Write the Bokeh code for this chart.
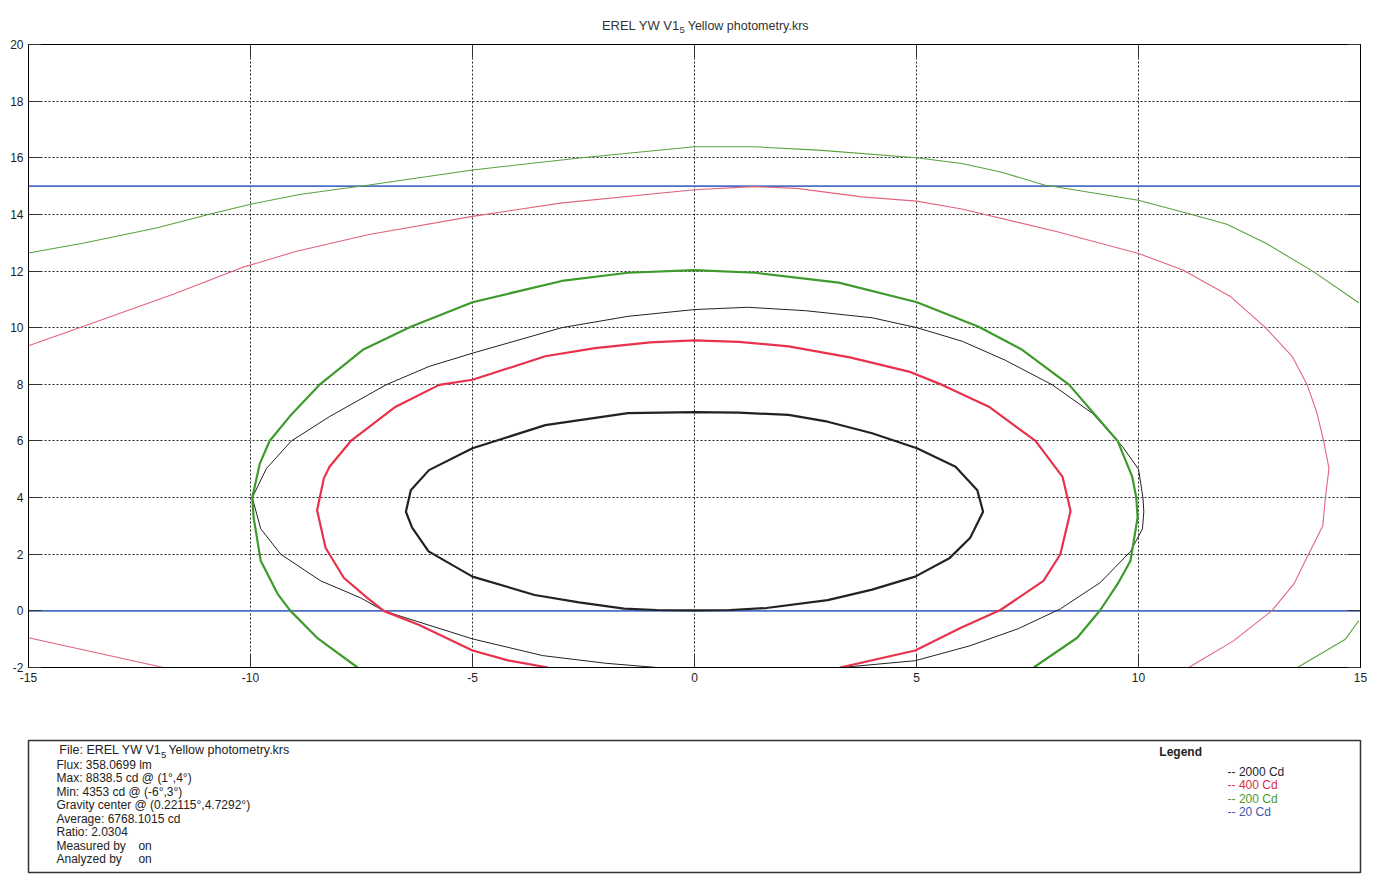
from bokeh.plotting import figure
from bokeh.models import Range1d, LinearAxis, FixedTicker, Grid, ColumnDataSource, CustomLabelingPolicy
from bokeh.layouts import column
from bokeh.embed import file_html
from bokeh.resources import INLINE
from bokeh.core.properties import value

# ---------------- data ----------------
x_ticks = [-15, -10, -5, 0, 5, 10, 15]
x_tick_labels = ["-15", "-10", "-5", "0", "5", "10", "15"]
y_ticks = [-2, 0, 2, 4, 6, 8, 10, 12, 14, 16, 18, 20]
y_tick_labels = ["-2", "0", "2", "4", "6", "8", "10", "12", "14", "16", "18", "20"]

# 2000 Cd family (black)
black_thick_x = [0, 1.0, 2.12, 3.0, 4.0, 5.01, 5.88, 6.37, 6.5, 6.21, 5.75, 4.97, 4.0, 3.0, 1.62, 0.8, 0,
                 -0.85, -1.59, -2.6, -3.6, -5.0, -5.99, -6.36, -6.5, -6.39, -5.98, -5.0, -3.36, -1.5, 0]
black_thick_y = [7.02, 7.0, 6.92, 6.68, 6.27, 5.74, 5.09, 4.26, 3.5, 2.58, 1.87, 1.21, 0.75, 0.38, 0.1, 0.03, 0.02,
                 0.03, 0.08, 0.3, 0.56, 1.21, 2.1, 2.94, 3.5, 4.26, 4.97, 5.74, 6.56, 6.98, 7.02]
black_thin_x = [3.3, 4.97, 6.21, 7.29, 8.24, 9.14, 9.82, 10.09, 10.12, 10.1, 10.0, 9.64, 8.96, 8.06, 7.0, 6.03,
                5.01, 4.0, 2.5, 1.2, 0, -1.5, -2.99, -5.0, -5.98, -6.95, -8.22, -9.08, -9.64, -9.96, -9.77,
                -9.32, -8.42, -7.52, -7.0, -5.0, -3.42, -2.0, -0.85]
black_thin_y = [-2.0, -1.76, -1.23, -0.63, 0.07, 1.0, 2.1, 2.9, 3.5, 4.0, 5.0, 5.8, 6.98, 7.98, 8.85, 9.52,
                10.0, 10.35, 10.6, 10.72, 10.64, 10.4, 10.0, 9.1, 8.63, 7.98, 6.86, 6.0, 5.03, 4.0, 2.9,
                2.0, 1.06, 0.46, 0.0, -0.99, -1.58, -1.85, -2.0]

# 400 Cd family (red)
red_thick_x = [3.28, 4.97, 6.0, 6.89, 7.86, 8.24, 8.47, 8.29, 7.68, 6.63, 5.58, 4.83, 3.5, 2.12, 1.0, 0,
               -1.0, -2.24, -3.36, -5.0, -5.75, -6.73, -7.74, -8.22, -8.35, -8.5, -8.31, -7.9, -7.37, -7.0,
               -6.2, -5.0, -4.2, -3.3]
red_thick_y = [-2.0, -1.4, -0.6, 0.03, 1.06, 2.0, 3.53, 4.73, 6.0, 7.21, 7.98, 8.45, 8.95, 9.34, 9.5, 9.55,
               9.48, 9.28, 8.99, 8.16, 7.98, 7.21, 6.0, 5.09, 4.67, 3.55, 2.23, 1.17, 0.46, 0.0,
               -0.5, -1.4, -1.75, -2.0]
red_thin_x = [-15, -13.9, -11.74, -10.2, -8.96, -7.33, -5.0, -3.02, 0, 1.32, 2.3, 3.77, 5.0, 6.02, 8.17, 10.0,
              11.0, 12.08, 12.86, 13.46, 13.8, 14.02, 14.17, 14.29, 14.21, 14.15, 13.83, 13.5, 13.0, 12.14, 11.13]
red_thin_y = [9.36, 9.97, 11.18, 12.12, 12.7, 13.29, 13.93, 14.4, 14.87, 14.98, 14.92, 14.62, 14.47, 14.19, 13.39,
              12.62, 12.04, 11.09, 10.0, 8.99, 7.98, 6.98, 6.0, 5.03, 4.0, 3.0, 2.0, 0.95, 0.0, -1.06, -2.0]
red_corner_x = [-15, -11.96]
red_corner_y = [-0.95, -2.0]

# 200 Cd family (green)
green_thick_x = [7.64, 8.62, 9.14, 9.53, 9.82, 9.98, 9.95, 9.86, 9.53, 8.44, 7.38, 6.4, 5.01, 3.25, 1.37, 0,
                 -1.5, -2.99, -5.0, -6.39, -7.47, -8.45, -9.12, -9.57, -9.79, -9.96, -9.93, -9.77, -9.39, -9.1,
                 -8.5, -7.59]
green_thick_y = [-2.0, -0.95, 0.03, 0.95, 1.77, 3.3, 4.0, 4.73, 6.0, 7.98, 9.22, 10.03, 10.9, 11.59, 11.94, 12.03,
                 11.94, 11.65, 10.9, 10.03, 9.22, 7.98, 6.86, 6.0, 5.2, 4.0, 3.3, 1.77, 0.6, 0.0,
                 -0.95, -2.0]
green_thin_x = [-15, -13.75, -12.12, -10.97, -10, -8.86, -7.33, -5, -2.54, 0, 1.32, 2.79, 5, 6.02, 6.9, 7.88,
                10, 11.2, 11.99, 12.87, 13.94, 14.96]
green_thin_y = [12.64, 12.99, 13.52, 13.99, 14.36, 14.71, 15.04, 15.57, 16.0, 16.39, 16.39, 16.27, 16.0, 15.8, 15.5,
                15.04, 14.5, 14.0, 13.65, 12.98, 11.98, 10.88]
green_corner_x = [13.58, 14.66, 14.96]
green_corner_y = [-2.0, -1.0, -0.35]

# 20 Cd (blue)
blue_low_x = [-15, 15]
blue_low_y = [0.0, 0.0]
blue_high_x = [-15, 15]
blue_high_y = [15.0, 15.0]

title_main = "EREL YW V1"
title_sub = "5"
title_rest = "Yellow photometry.krs"

info_first = "File: EREL YW V1"
info_first_sub = "5"
info_first_rest = "Yellow photometry.krs"
info_lines = [
    "Flux: 358.0699 lm",
    "Max: 8838.5 cd @ (1°,4°)",
    "Min: 4353 cd @ (-6°,3°)",
    "Gravity center @ (0.22115°,4.7292°)",
    "Average: 6768.1015 cd",
    "Ratio: 2.0304",
]
info_sign_labels = ["Measured by", "Analyzed by"]
info_sign_values = ["on", "on"]
legend_title = "Legend"
legend_labels = ["-- 2000 Cd", "-- 400 Cd", "-- 200 Cd", "-- 20 Cd"]
legend_colors = ["#1e2233", "#d8304a", "#4a9a30", "#3a55a8"]

FONT = "Liberation Sans"
W = 1370
TXT = "#222222"

# ---------------- title strip ----------------
tf = figure(width=W, height=36, x_range=Range1d(0, W), y_range=Range1d(36, 0),
            output_backend="svg", toolbar_location=None, x_axis_type=None, y_axis_type=None,
            min_border=0, outline_line_color=None)
tf.grid.visible = False
tf.text(x=[670], y=[25], text=[title_main], text_font=value(FONT), text_font_size="13px",
        text_align="right", text_baseline="middle", text_color="#333333")
tf.text(x=[669.5], y=[29.5], text=[title_sub], text_font=value(FONT), text_font_size="9.5px",
        text_align="left", text_baseline="middle", text_color="#333333")
tf.text(x=[678], y=[25], text=[title_rest], text_font=value(FONT), text_font_size="12.5px",
        text_align="left", text_baseline="middle", text_color="#333333")

# ---------------- main plot ----------------
p = figure(width=W, height=672, x_range=Range1d(-15, 15), y_range=Range1d(-2, 20),
           output_backend="svg", toolbar_location=None, x_axis_type=None, y_axis_type=None,
           min_border_left=28, min_border_right=W - 1360, min_border_top=8, min_border_bottom=41,
           outline_line_color="black", outline_line_width=1)

xt = FixedTicker(ticks=x_ticks)
yt = FixedTicker(ticks=y_ticks)

def mk_axis(ticker, labels_map, show):
    ax = LinearAxis(ticker=ticker, major_tick_in=13, major_tick_out=0,
                    minor_tick_line_color=None, axis_line_color="black",
                    major_tick_line_color="#333333",
                    major_label_text_font=FONT, major_label_text_color=TXT)
    if show:
        ax.major_label_overrides = labels_map
        ax.major_label_text_font_size = "12px"
        ax.major_label_standoff = 5
    else:
        ax.major_label_policy = CustomLabelingPolicy(code="for (const i of indices) { if (i < 0) { yield i } }")
        ax.major_label_text_font_size = "1px"
        ax.major_label_standoff = 0
    return ax

xmap = {t: s for t, s in zip(x_ticks, x_tick_labels)}
ymap = {t: s for t, s in zip(y_ticks, y_tick_labels)}
p.add_layout(mk_axis(xt, xmap, True), "below")
p.add_layout(mk_axis(yt, ymap, True), "left")
p.add_layout(mk_axis(xt, xmap, False), "above")
p.add_layout(mk_axis(yt, ymap, False), "right")

p.add_layout(Grid(dimension=0, ticker=xt, grid_line_color="black", grid_line_dash="2 2", grid_line_alpha=0.85))
p.add_layout(Grid(dimension=1, ticker=yt, grid_line_color="black", grid_line_dash="2 2", grid_line_alpha=0.85))

p.line(blue_low_x, blue_low_y, line_color="#4a6fc4", line_width=1.8)
p.line(blue_high_x, blue_high_y, line_color="#4a6fc4", line_width=1.8)
p.line(green_thin_x, green_thin_y, line_color="#5aa23c", line_width=1.1)
p.line(green_corner_x, green_corner_y, line_color="#5aa23c", line_width=1.1)
p.line(red_thin_x, red_thin_y, line_color="#e2647e", line_width=1.1)
p.line(red_corner_x, red_corner_y, line_color="#e2647e", line_width=1.1)
p.line(black_thin_x, black_thin_y, line_color="#222222", line_width=1.0)
p.line(green_thick_x, green_thick_y, line_color="#3e9a2c", line_width=2.2)
p.line(red_thick_x, red_thick_y, line_color="#e8324c", line_width=2.2)
p.line(black_thick_x, black_thick_y, line_color="#222222", line_width=2.2)

# ---------------- info box ----------------
inf = figure(width=W, height=178, x_range=Range1d(27, 1360), y_range=Range1d(872, 740),
             output_backend="svg", toolbar_location=None, x_axis_type=None, y_axis_type=None,
             min_border_left=27, min_border_right=W - 1360, min_border_top=32, min_border_bottom=14,
             outline_line_color="#333333", outline_line_width=1.5)
inf.grid.visible = False

inf.text(x=[160], y=[749.5], text=[info_first], text_font=value(FONT), text_font_size="12.5px",
         text_align="right", text_baseline="middle", text_color=TXT)
inf.text(x=[159.5], y=[754], text=[info_first_sub], text_font=value(FONT), text_font_size="9.5px",
         text_align="left", text_baseline="middle", text_color=TXT)
inf.text(x=[167], y=[749.5], text=[info_first_rest], text_font=value(FONT), text_font_size="12.5px",
         text_align="left", text_baseline="middle", text_color=TXT)
ys = [764 + 13.5 * i for i in range(len(info_lines))]
src = ColumnDataSource(dict(x=[55] * len(info_lines), y=ys, t=info_lines))
inf.text(x="x", y="y", text="t", source=src, text_font=value(FONT), text_font_size="12px",
         text_align="left", text_baseline="middle", text_color=TXT)
ys2 = [764 + 13.5 * (len(info_lines) + i) for i in range(len(info_sign_labels))]
src2 = ColumnDataSource(dict(x=[55] * 2, x2=[137] * 2, y=ys2, t=info_sign_labels, v=info_sign_values))
inf.text(x="x", y="y", text="t", source=src2, text_font=value(FONT), text_font_size="12px",
         text_align="left", text_baseline="middle", text_color=TXT)
inf.text(x="x2", y="y", text="v", source=src2, text_font=value(FONT), text_font_size="12px",
         text_align="left", text_baseline="middle", text_color=TXT)

inf.text(x=[1180], y=[751], text=[legend_title], text_font=value(FONT), text_font_size="12px",
         text_font_style="bold", text_align="center", text_baseline="middle", text_color=TXT)
lsrc = ColumnDataSource(dict(x=[1227] * 4, y=[771, 784.5, 798, 811.5], t=legend_labels, c=legend_colors))
inf.text(x="x", y="y", text="t", text_color="c", source=lsrc, text_font=value(FONT), text_font_size="12px",
         text_align="left", text_baseline="middle")

layout = column(tf, p, inf, spacing=0)
open("out.html", "w").write(file_html(layout, INLINE))
